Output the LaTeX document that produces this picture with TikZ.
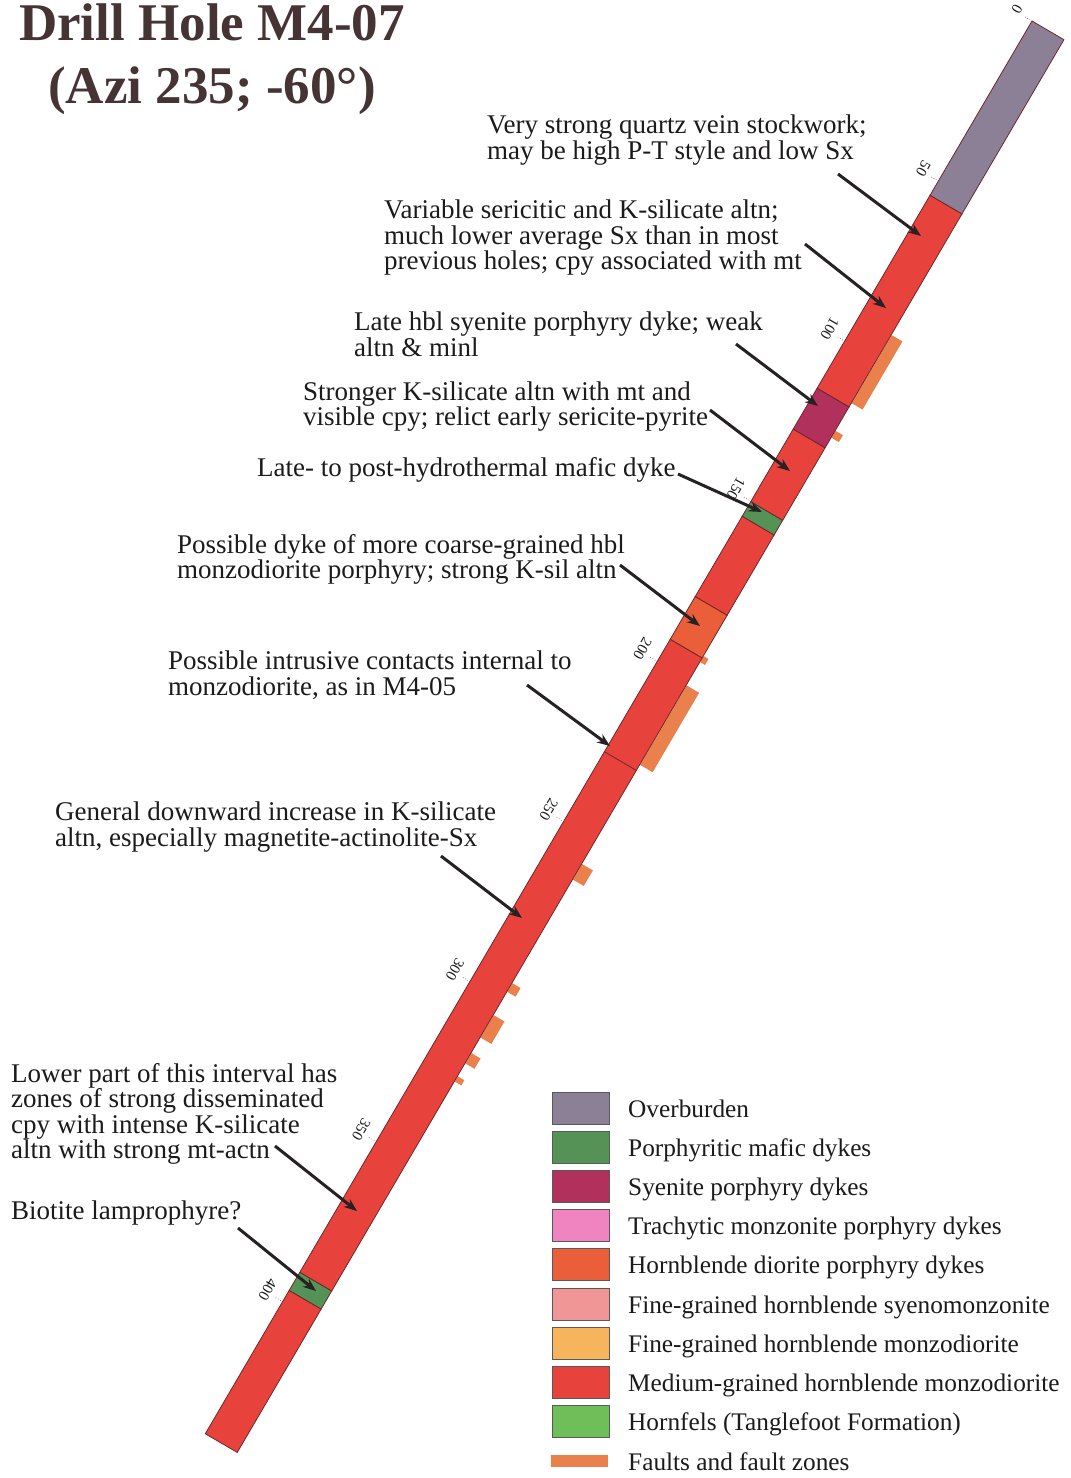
\documentclass[tikz,border=0pt]{standalone}
\usepackage{fontspec}
\setmainfont{Liberation Serif}
\usetikzlibrary{arrows.meta}
\definecolor{ovbC}{RGB}{140,128,150}
\definecolor{mafC}{RGB}{84,146,86}
\definecolor{syeC}{RGB}{178,48,92}
\definecolor{traC}{RGB}{240,132,192}
\definecolor{hbdC}{RGB}{234,94,58}
\definecolor{fgsC}{RGB}{240,150,150}
\definecolor{fgmC}{RGB}{246,180,92}
\definecolor{mgmC}{RGB}{232,66,60}
\definecolor{hfC}{RGB}{110,190,90}
\definecolor{fltC}{RGB}{234,128,76}
\definecolor{edgeC}{RGB}{110,40,45}
\definecolor{txtC}{RGB}{28,26,26}
\definecolor{ttlC}{RGB}{70,52,52}
\definecolor{arrC}{RGB}{38,34,36}
\newcommand\holeseg[3]{\filldraw[unit,fill=#3] (#1,0) -- (#2,0) -- (#2,37) -- (#1,37) -- cycle;}
\newcommand\faultbar[3]{\fill[fltC] (#1,37.5) -- (#2,37.5) -- (#2,#3) -- (#1,#3) -- cycle;}
\tikzset{
  unit/.style={draw=edgeC, line width=0.8pt},
  ann/.style={font=\fontsize{27}{25.5}\selectfont, text=txtC, align=left, inner sep=0pt, anchor=west},
  legt/.style={font=\fontsize{25.3}{25}\selectfont, text=txtC, inner sep=0pt, anchor=base west},
  legbox/.style={draw=gray!70!black, line width=0.6pt},
  arr/.style={draw=arrC, line width=3pt, -{Stealth[length=13pt,width=10pt]}},
  ticklab/.style={font=\fontsize{15}{15}\selectfont, text=txtC, rotate=-120, inner sep=0pt},
  tickln/.style={draw=gray!60!black, line width=0.6pt, dotted},
  ttl/.style={font=\fontsize{53}{53}\selectfont\bfseries, text=ttlC, inner sep=0pt, anchor=base}
}
\begin{document}
\begin{tikzpicture}[x=1pt,y=-1pt]
\useasboundingbox[fill=white] (0,0) rectangle (1071,1478);

% title
\node[ttl] (ttl1) at (212,40) {Drill Hole M4-07};
\node[ttl] (ttl2) at (212,103) {(Azi 235; -60°)};

% drill hole
\begin{scope}[shift={(1032pt,-21pt)}, x={(-0.505pt,-0.863pt)}, y={(0.863pt,-0.505pt)}]
  \faultbar{342}{421}{50}
  \faultbar{453}{461}{46}
  \faultbar{714}{721}{43}
  \faultbar{748}{840}{52}
  \faultbar{955}{973}{50}
  \faultbar{1093}{1103}{47}
  \faultbar{1130}{1156}{50}
  \faultbar{1174}{1186}{48}
  \faultbar{1201}{1207}{45}
  \holeseg{0}{202}{ovbC}
  \holeseg{202}{425.6}{mgmC}
  \holeseg{425.6}{473}{syeC}
  \holeseg{473}{557}{mgmC}
  \holeseg{557}{574}{mafC}
  \holeseg{574}{667}{mgmC}
  \holeseg{667}{716.5}{hbdC}
  \holeseg{716.5}{1450}{mgmC}
  \holeseg{1450}{1471}{mafC}
  \holeseg{1471}{1637}{mgmC}
  \draw[unit] (846.7,0) -- (846.7,37);
  \foreach \d in {0,50,...,400}{
    \draw[tickln] ({3.71*\d},-8) -- ({3.71*\d},0);
    \node[ticklab] (tk\d) at ({3.71*\d-3},-19) {\d};
  }
\end{scope}

% annotations
\node[ann] (n1) at (487,140) {Very strong quartz vein stockwork;\\may be high P-T style and low Sx};
\node[ann] (n2) at (384,238) {Variable sericitic and K-silicate altn;\\much lower average Sx than in most\\previous holes; cpy associated with mt};
\node[ann] (n3) at (354,334.5) {Late hbl syenite porphyry dyke; weak\\altn \& minl};
\node[ann] (n4) at (303,406.5) {Stronger K-silicate altn with mt and\\visible cpy; relict early sericite-pyrite};
\node[ann] (n5) at (257,470) {Late- to post-hydrothermal mafic dyke};
\node[ann] (n6) at (177,559.5) {Possible dyke of more coarse-grained hbl\\monzodiorite porphyry; strong K-sil altn};
\node[ann] (n7) at (168,675) {Possible intrusive contacts internal to\\monzodiorite, as in M4-05};
\node[ann] (n8) at (55,827) {General downward increase in K-silicate\\altn, especially magnetite-actinolite-Sx};
\node[ann] (n9) at (11,1114) {Lower part of this interval has\\zones of strong disseminated\\cpy with intense K-silicate\\altn with strong mt-actn};
\node[ann] (n10) at (11,1213) {Biotite lamprophyre?};

\coordinate (a1s) at (838,174);  \coordinate (a1e) at (921,236);
\coordinate (a2s) at (805,244);  \coordinate (a2e) at (886,308);
\coordinate (a3s) at (736,344);  \coordinate (a3e) at (818,406);
\coordinate (a4s) at (710,410);  \coordinate (a4e) at (790,471);
\coordinate (a5s) at (678,474);  \coordinate (a5e) at (762,512);
\coordinate (a6s) at (620,565);  \coordinate (a6e) at (700,626);
\coordinate (a7s) at (527,685);  \coordinate (a7e) at (610,746);
\coordinate (a8s) at (441,856);  \coordinate (a8e) at (522,918);
\coordinate (a9s) at (275,1146); \coordinate (a9e) at (357,1211);
\coordinate (a10s) at (238,1228); \coordinate (a10e) at (316,1291);
\foreach \i in {1,...,10}{\draw[arr] (a\i s) -- (a\i e);}

% legend
\filldraw[legbox, fill=ovbC] (552,1092) rectangle (609,1124);
\filldraw[legbox, fill=mafC] (552,1131.5) rectangle (609,1163.5);
\filldraw[legbox, fill=syeC] (552,1170) rectangle (609,1202);
\filldraw[legbox, fill=traC] (552,1209.5) rectangle (609,1241.5);
\filldraw[legbox, fill=hbdC] (552,1248.5) rectangle (609,1280.5);
\filldraw[legbox, fill=fgsC] (552,1288.5) rectangle (609,1320.5);
\filldraw[legbox, fill=fgmC] (552,1327) rectangle (609,1359);
\filldraw[legbox, fill=mgmC] (552,1366.5) rectangle (609,1398.5);
\filldraw[legbox, fill=hfC] (552,1405.5) rectangle (609,1437.5);
\fill[fltC] (551,1455) rectangle (608,1467);
\node[legt] (l1) at (628,1117) {Overburden};
\node[legt] (l2) at (628,1156.5) {Porphyritic mafic dykes};
\node[legt] (l3) at (628,1195) {Syenite porphyry dykes};
\node[legt] (l4) at (628,1234.5) {Trachytic monzonite porphyry dykes};
\node[legt] (l5) at (628,1273.5) {Hornblende diorite porphyry dykes};
\node[legt] (l6) at (628,1313.5) {Fine-grained hornblende syenomonzonite};
\node[legt] (l7) at (628,1352) {Fine-grained hornblende monzodiorite};
\node[legt] (l8) at (628,1391.5) {Medium-grained hornblende monzodiorite};
\node[legt] (l9) at (628,1430.5) {Hornfels (Tanglefoot Formation)};
\node[legt] (l10) at (628,1470) {Faults and fault zones};
\end{tikzpicture}
\end{document}
